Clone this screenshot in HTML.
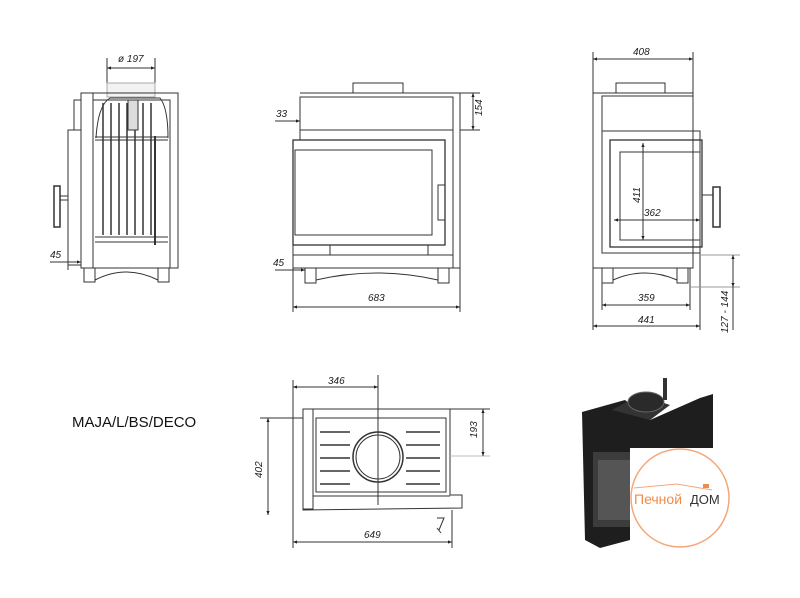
<!DOCTYPE html>
<html><head><style>
html,body{margin:0;padding:0;background:#fff;}
svg{display:block;}
text{font-family:"Liberation Sans",sans-serif;font-style:italic;font-size:10px;fill:#222;}
</style></head><body>
<svg width="800" height="598" viewBox="0 0 800 598" xmlns="http://www.w3.org/2000/svg">
<defs>
<marker id="a" viewBox="0 0 10 10" refX="10" refY="5" markerWidth="6" markerHeight="4" orient="auto-start-reverse"><path d="M0,1L10,5L0,9z" fill="#222"/></marker>
</defs>
<g stroke="#333" stroke-width="1" fill="none">
<!-- LEFT VIEW -->
<line x1="107" y1="58" x2="107" y2="97"/><line x1="155" y1="58" x2="155" y2="97"/>
<line x1="107" y1="68" x2="155" y2="68" marker-start="url(#a)" marker-end="url(#a)"/>
<rect x="107" y="83" width="48" height="14" fill="#f2f2f2" stroke="#aaa"/>
<rect x="81" y="93" width="12" height="175"/>
<path d="M93,93 L178,93 L178,268 L170,268 L170,100 L93,100"/>
<rect x="93" y="100" width="77" height="168"/>
<rect x="68" y="130" width="13" height="135"/>
<rect x="74" y="100" width="7" height="30"/>
<rect x="54" y="186" width="6" height="41" stroke-width="1.5"/>
<line x1="60" y1="196" x2="68" y2="196"/><line x1="60" y1="200" x2="68" y2="200"/>
<path d="M96,138 Q98,105 110,98 L160,98 Q168,108 168,138"/>
<line x1="95" y1="137" x2="168" y2="137"/><line x1="95" y1="140" x2="168" y2="140"/>
<line x1="95" y1="237" x2="168" y2="237"/><line x1="95" y1="242" x2="168" y2="242"/>
<g stroke-width="1.5"><line x1="103" y1="103" x2="103" y2="235"/><line x1="111" y1="103" x2="111" y2="235"/><line x1="119" y1="103" x2="119" y2="235"/><line x1="127" y1="103" x2="127" y2="235"/><line x1="135" y1="103" x2="135" y2="235"/><line x1="143" y1="103" x2="143" y2="235"/><line x1="151" y1="103" x2="151" y2="235"/></g>
<line x1="155" y1="136" x2="155" y2="245" stroke-width="2"/>
<rect x="128" y="100" width="10" height="30" fill="#ddd"/>
<rect x="84" y="268" width="11" height="14"/><rect x="158" y="268" width="11" height="14"/>
<path d="M95,280 Q126,264 158,280"/>
<line x1="68" y1="255" x2="68" y2="270"/>
<line x1="50" y1="262" x2="81" y2="262" marker-end="url(#a)"/>
<!-- MIDDLE VIEW -->
<rect x="353" y="83" width="50" height="10"/>
<path d="M300,93 L460,93 L460,268 L293,268 L293,140"/>
<line x1="453" y1="97" x2="453" y2="268"/>
<rect x="300" y="97" width="153" height="33"/>
<line x1="300" y1="130" x2="300" y2="140"/>
<rect x="293" y="140" width="152" height="105" stroke-width="1.3"/>
<rect x="295" y="150" width="137" height="85"/>
<rect x="438" y="185" width="7" height="35"/>
<line x1="293" y1="255" x2="453" y2="255"/>
<rect x="330" y="245" width="98" height="10"/>
<rect x="305" y="268" width="11" height="15"/><rect x="438" y="268" width="11" height="15"/>
<path d="M316,280 Q376,266 438,280"/>
<line x1="293" y1="255" x2="293" y2="312"/><line x1="460" y1="268" x2="460" y2="312"/>
<line x1="293" y1="307" x2="460" y2="307" marker-start="url(#a)" marker-end="url(#a)"/>
<line x1="460" y1="130" x2="480" y2="130"/><line x1="460" y1="93" x2="480" y2="93"/>
<line x1="473" y1="93" x2="473" y2="130" marker-start="url(#a)" marker-end="url(#a)"/>
<line x1="275" y1="121" x2="300" y2="121" marker-end="url(#a)"/>
<line x1="275" y1="270" x2="305" y2="270" marker-end="url(#a)"/>
<!-- RIGHT VIEW -->
<line x1="593" y1="52" x2="593" y2="330"/><line x1="693" y1="52" x2="693" y2="93"/>
<line x1="593" y1="59" x2="693" y2="59" marker-start="url(#a)" marker-end="url(#a)"/>
<rect x="616" y="83" width="49" height="10"/>
<path d="M593,93 L693,93 L693,268 L593,268"/>
<rect x="602" y="96" width="91" height="35"/>
<rect x="602" y="131" width="98" height="122"/>
<rect x="610" y="140" width="92" height="107" stroke-width="1.3"/>
<rect x="620" y="152" width="80" height="88"/>
<rect x="713" y="187" width="7" height="40" stroke-width="1.5"/>
<line x1="702" y1="195" x2="713" y2="195"/>
<line x1="643" y1="143" x2="643" y2="240" marker-start="url(#a)" marker-end="url(#a)"/>
<line x1="614" y1="220" x2="700" y2="220" marker-start="url(#a)" marker-end="url(#a)"/>
<rect x="602" y="268" width="11" height="15"/><rect x="677" y="268" width="11" height="15"/>
<path d="M613,280 Q645,266 677,280"/>
<line x1="602" y1="283" x2="602" y2="310"/><line x1="690" y1="268" x2="690" y2="310"/>
<line x1="602" y1="305" x2="690" y2="305" marker-start="url(#a)" marker-end="url(#a)"/>
<line x1="700" y1="253" x2="700" y2="330"/>
<line x1="593" y1="326" x2="700" y2="326" marker-start="url(#a)" marker-end="url(#a)"/>
<line x1="700" y1="255" x2="740" y2="255" stroke="#999"/><line x1="690" y1="287" x2="740" y2="287" stroke="#999"/>
<line x1="733" y1="255" x2="733" y2="287" marker-start="url(#a)" marker-end="url(#a)"/>
<line x1="733" y1="287" x2="733" y2="330"/>
<!-- BOTTOM VIEW -->
<line x1="293" y1="380" x2="293" y2="548"/><line x1="378" y1="375" x2="378" y2="505"/>
<line x1="293" y1="387" x2="378" y2="387" marker-start="url(#a)" marker-end="url(#a)"/>
<path d="M303,409 L450,409 L450,495 L462,495 L462,508 L303,510 Z"/>
<rect x="303" y="409" width="10" height="100"/>
<rect x="316" y="418" width="130" height="74"/>
<line x1="313" y1="496" x2="450" y2="496"/>
<circle cx="378" cy="457" r="25" stroke-width="1.5"/><circle cx="378" cy="457" r="22"/>
<g stroke-width="1.5">
<line x1="320" y1="432" x2="350" y2="432"/><line x1="406" y1="432" x2="440" y2="432"/>
<line x1="320" y1="445" x2="350" y2="445"/><line x1="406" y1="445" x2="440" y2="445"/>
<line x1="320" y1="458" x2="350" y2="458"/><line x1="406" y1="458" x2="440" y2="458"/>
<line x1="320" y1="471" x2="350" y2="471"/><line x1="406" y1="471" x2="440" y2="471"/>
<line x1="320" y1="484" x2="350" y2="484"/><line x1="406" y1="484" x2="440" y2="484"/>
</g>
<line x1="260" y1="418" x2="303" y2="418"/>
<line x1="268" y1="418" x2="268" y2="515" marker-start="url(#a)" marker-end="url(#a)"/>
<line x1="450" y1="409" x2="490" y2="409"/><line x1="450" y1="456" x2="490" y2="456" stroke="#bbb"/>
<line x1="483" y1="409" x2="483" y2="456" marker-start="url(#a)" marker-end="url(#a)"/>
<line x1="452" y1="510" x2="452" y2="548"/>
<line x1="293" y1="542" x2="452" y2="542" marker-start="url(#a)" marker-end="url(#a)"/>
<path d="M437,518 L444,518 L439,530 M437,528 L441,533"/>
</g>
<!-- PHOTO -->
<g>
<path d="M582,412 L625,400 L650,420 L700,398 L713,394 L713,450 L630,460 L630,540 L600,548 L585,540 Z" fill="#1e1e1e"/>
<path d="M612,410 L640,395 L670,405 L650,420 Z" fill="#333"/>
<ellipse cx="646" cy="402" rx="18" ry="10" fill="#2a2a2a" stroke="#666"/>
<rect x="663" y="378" width="4" height="22" fill="#333"/>
<rect x="593" y="452" width="37" height="75" fill="#3c3c3c"/>
<rect x="598" y="460" width="32" height="60" fill="#555"/>
<rect x="630" y="448" width="98" height="106" fill="#fff"/>
<circle cx="680" cy="498" r="49" fill="#fff" stroke="#f5a77a" stroke-width="1.5"/>
<path d="M634,488 L677,484 L712,490" stroke="#f5a77a" fill="none"/>
<rect x="703" y="484" width="6" height="4" fill="#f08a4b"/>
<text x="634" y="504" style="font-style:normal;font-size:14px;fill:#f08a4b">Печной</text>
<text x="690" y="504" style="font-style:normal;font-size:13px;fill:#333">ДОМ</text>
</g>
<!-- LABELS -->
<text x="118" y="62">ø 197</text>
<text x="50" y="258">45</text>
<text x="276" y="117">33</text>
<text x="273" y="266">45</text>
<text x="368" y="301">683</text>
<text transform="translate(482,116) rotate(-90)">154</text>
<text x="633" y="55">408</text>
<text transform="translate(640,203) rotate(-90)">411</text>
<text x="644" y="216">362</text>
<text x="638" y="301">359</text>
<text x="638" y="323">441</text>
<text transform="translate(728,333) rotate(-90)">127 - 144</text>
<text x="328" y="384">346</text>
<text transform="translate(262,478) rotate(-90)">402</text>
<text transform="translate(477,438) rotate(-90)">193</text>
<text x="364" y="538">649</text>
<text x="72" y="427" style="font-style:normal;font-size:15px;fill:#111">MAJA/L/BS/DECO</text>
</svg>
</body></html>
